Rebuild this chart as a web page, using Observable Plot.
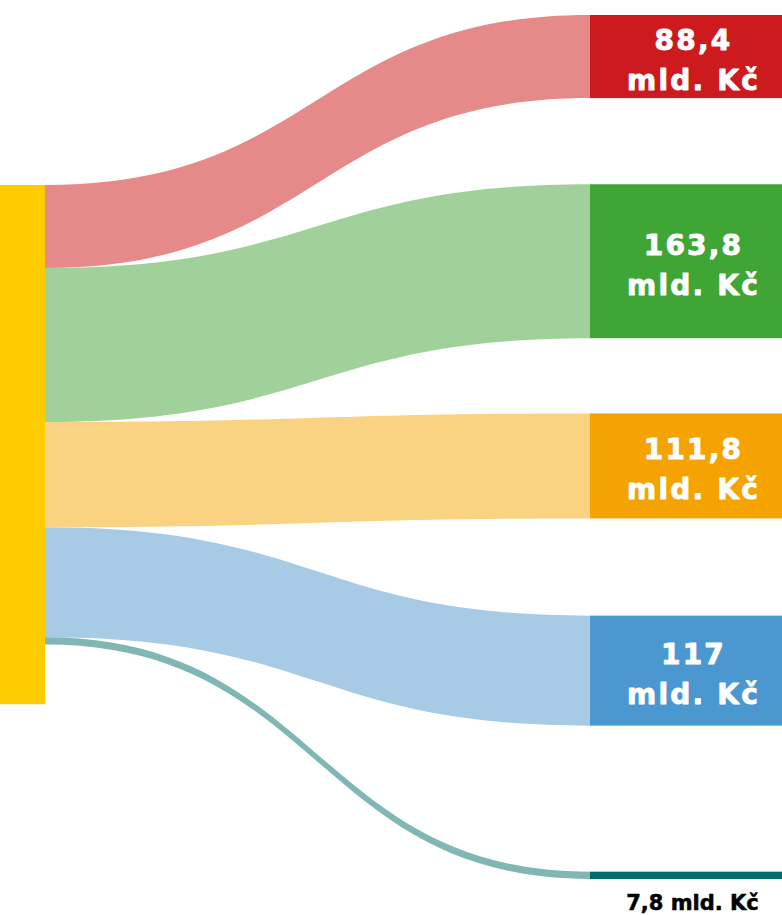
<!DOCTYPE html>
<html><head><meta charset="utf-8">
<script src="https://cdn.jsdelivr.net/npm/d3@7"></script>
<script src="https://cdn.jsdelivr.net/npm/@observablehq/plot@0.6"></script>
<style>
html,body{margin:0;padding:0;background:#fff;}
#chart svg{display:block;}
</style>
</head><body><div id="chart"></div>
<script>
// ---- data ----
const categories = ["A", "B", "C", "D", "E"];
const values = [88.4, 163.8, 111.8, 117, 7.8];
const valueLabels = ["88,4", "163,8", "111,8", "117", "7,8"];
const unitLabel = "mld. Kč";
const nodeColors = ["#cc1a1e", "#3fa535", "#f5a300", "#4b98d0", "#006e68"];
const linkColors = ["#e58a89", "#a1d19a", "#f9d282", "#a7cbe5", "#80b6b3"];
const sourceColor = "#ffcc00";

// ---- layout ----
const W = 782, H = 915;
const pxPerUnit = 0.94;
const toU = px => px / pxPerUnit;
const total = d3.sum(values);
const srcX = [0, 45], tgtX = [590, 782];
const srcTop = toU(185);
const srcBottom = srcTop + total * 1.13;
const firstTop = toU(15), lastBottom = toU(879);
const c0 = firstTop + values[0] / 2;
const cN = lastBottom - values[values.length - 1] / 2;
const n = values.length;

let acc = srcTop;
const nodes = categories.map((c, i) => {
  const center = c0 + (cN - c0) * i / (n - 1);
  const d = {
    cat: c, value: values[i], label: valueLabels[i],
    top: center - values[i] / 2, bottom: center + values[i] / 2, center,
    sTop: acc, sBottom: acc + values[i],
    color: nodeColors[i], link: linkColors[i]
  };
  acc += values[i];
  return d;
});

const linkMarks = nodes.map(d => Plot.area(
  [{x: srcX[1], y1: d.sTop, y2: d.sBottom}, {x: tgtX[0], y1: d.top, y2: d.bottom}],
  {x1: "x", y1: "y1", y2: "y2", fill: d.link, curve: "bump-x"}
));

const inside = nodes.filter(d => d.value > 20);
const outside = nodes.filter(d => d.value <= 20);

const chart = Plot.plot({
  width: W, height: H,
  margin: 0,
  x: {domain: [0, W], range: [0, W], axis: null},
  y: {domain: [0, toU(H)], range: [0, H], axis: null},
  color: {type: "identity"},
  marks: [
    ...linkMarks,
    Plot.rect([{y1: srcTop, y2: srcBottom}], {x1: () => srcX[0], x2: () => srcX[1], y1: "y1", y2: "y2", fill: sourceColor}),
    Plot.rect(nodes, {x1: () => tgtX[0], x2: () => tgtX[1], y1: "top", y2: "bottom", fill: "color"}),
    Plot.text(inside, {
      x: () => 693, y: "center", text: d => d.label + "\n" + unitLabel,
      fill: "white", stroke: "white", strokeWidth: 0.9, fontSize: 28, fontWeight: "bold", lineHeight: 1.43,
      fontFamily: "DejaVu Sans", className: "big-label"
    }),
    Plot.text(outside, {
      x: () => 692, y: "bottom", dy: 30, lineAnchor: "bottom",
      text: d => d.label + " " + unitLabel,
      fill: "black", stroke: "black", strokeWidth: 0.5, fontSize: 21, fontWeight: "bold", fontFamily: "DejaVu Sans"
    })
  ]
});
document.getElementById("chart").append(chart);
d3.select(chart).selectAll(".big-label text").attr("letter-spacing", "2.2px");
</script>
</body></html>
